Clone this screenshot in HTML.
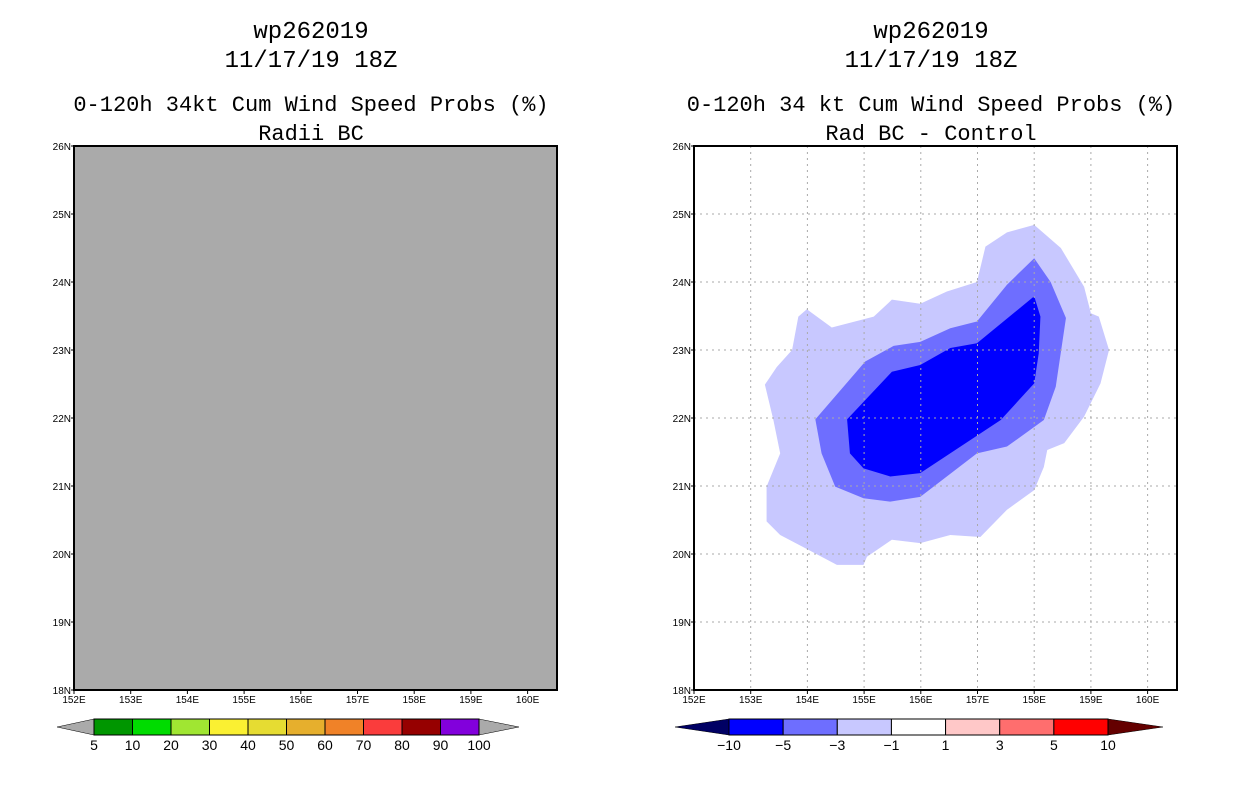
<!DOCTYPE html>
<html><head><meta charset="utf-8"><style>
body{margin:0;background:#fff;width:1236px;height:800px;overflow:hidden}
svg text{font-family:"Liberation Sans",sans-serif}
svg text.t{font-family:"Liberation Mono",monospace}
</style></head><body>
<svg id="s" width="1236" height="800" xmlns="http://www.w3.org/2000/svg"></svg>
<script>
const lonTicks=[152,153,154,155,156,157,158,159,160];
const latTicks=[18,19,20,21,22,23,24,25,26];
const probLevels=["5","10","20","30","40","50","60","70","80","90","100"];
const probColors=["#009600","#00dc00","#a0e632","#faf032","#e6dc32","#e6af2d","#f08228","#fa3c3c","#960000","#8200dc"];
const diffLevels=["-10","-5","-3","-1","1","3","5","10"];
const diffColors=["#0000ff","#6e6eff","#c8c8ff","#ffffff","#ffc8c8","#ff6e6e","#ff0000"];
const outerLon=[153.99,154.43,155.17,155.49,155.99,156.46,156.99,157.14,157.52,158.00,158.47,158.88,159.00,159.14,159.32,159.17,158.88,158.53,158.23,158.17,158.00,157.52,157.05,156.52,155.99,155.49,155.05,154.99,154.52,154.02,153.52,153.28,153.28,153.52,153.40,153.25,153.46,153.73,153.84];
const outerLat=[23.60,23.33,23.49,23.74,23.68,23.86,24.00,24.52,24.73,24.84,24.50,23.93,23.54,23.49,23.00,22.51,22.02,21.63,21.53,21.28,20.94,20.65,20.25,20.28,20.16,20.21,19.96,19.84,19.84,20.06,20.28,20.48,20.99,21.48,21.97,22.49,22.75,23.00,23.49];
const midLon=[154.14,155.02,155.52,155.99,156.52,156.99,157.52,158.00,158.29,158.56,158.38,158.17,157.52,156.99,155.99,155.46,154.99,154.49,154.25];
const midLat=[21.98,22.83,23.06,23.12,23.32,23.42,23.96,24.35,24.00,23.47,22.46,21.97,21.58,21.48,20.84,20.77,20.82,20.99,21.48];
const innerLon=[154.70,155.49,155.99,156.52,156.99,158.00,158.11,158.08,158.00,157.41,155.99,155.46,154.99,154.75];
const innerLat=[21.98,22.68,22.78,23.03,23.10,23.79,23.49,22.95,22.51,21.97,21.19,21.14,21.26,21.48];

const S=document.getElementById('s'),NS='http://www.w3.org/2000/svg';
function mk(t,a,p){const e=document.createElementNS(NS,t);for(const k in a)e.setAttribute(k,a[k]);(p||S).appendChild(e);return e;}
function txt(x,y,s,size,anchor,name,cls){const e=mk('text',{x:x,y:y,'font-size':size,'text-anchor':anchor||'middle',fill:'#000'});e.textContent=s;
if(cls)e.setAttribute('class',cls);

return e;}

function panel(x0,id,t3,t4,gray){
  const X=lon=>x0+(lon-152)*56.7, Y=lat=>146+(26-lat)*68;
  const cx=x0+237;
  txt(cx,38,'wp262019',24,'middle',id+'-title-storm','t');
  txt(cx,67,'11/17/19 18Z',24,'middle',id+'-title-date','t');
  txt(cx,111,t3,22,'middle',id+'-title-product','t');
  txt(cx,140,t4,22,'middle',id+'-title-subtitle','t');
  const g=mk('g',{});
  
  
  mk('rect',{x:x0,y:146,width:483,height:544,fill:gray?'#aaaaaa':'#fff'},g);
  if(!gray){
    const poly=(lo,la,c,n)=>{const p=mk('polygon',{points:lo.map((v,i)=>X(v)+','+Y(la[i])).join(' '),fill:c},g);
      
      };
    poly(outerLon,outerLat,'#c8c8ff','contour-minus1');
    poly(midLon,midLat,'#6e6eff','contour-minus3');
    poly(innerLon,innerLat,'#0000ff','contour-minus5');
    lonTicks.slice(1).forEach(l=>mk('line',{x1:X(l),x2:X(l),y1:146,y2:690,stroke:'#aaa','stroke-dasharray':'2,4'},g));
    latTicks.slice(1,-1).forEach(l=>mk('line',{x1:x0,x2:x0+483,y1:Y(l),y2:Y(l),stroke:'#aaa','stroke-dasharray':'2,4'},g));
  }
  mk('rect',{x:x0,y:146,width:483,height:544,fill:'none',stroke:'#000','stroke-width':2},g);
  lonTicks.forEach(l=>{mk('line',{x1:X(l),x2:X(l),y1:690,y2:694,stroke:'#000'});txt(X(l),703,l+'E',10,'middle',id+'-x-tick');});
  latTicks.forEach(l=>{mk('line',{x1:x0-3,x2:x0,y1:Y(l),y2:Y(l),stroke:'#000'});txt(x0-3,Y(l)+4,l+'N',10,'end',id+'-y-tick');});
}
panel(74,'left','0-120h 34kt Cum Wind Speed Probs (%)','Radii BC',true);
panel(694,'right','0-120h 34 kt Cum Wind Speed Probs (%)','Rad BC - Control',false);

function cbar(x1,x2,tl,tr,cols,labs,lc,rc,id){
  const g=mk('g',{});
  
  
  const w=(x2-x1)/cols.length;
  mk('polygon',{points:`${tl},727 ${x1},719 ${x1},735`,fill:lc,stroke:'#000','stroke-width':0.5},g);
  mk('polygon',{points:`${tr},727 ${x2},719 ${x2},735`,fill:rc,stroke:'#000','stroke-width':0.5},g);
  cols.forEach((c,i)=>mk('rect',{x:x1+i*w,y:719,width:w,height:16,fill:c,stroke:'#000','stroke-width':1},g));
  labs.forEach((s,i)=>{txt(x1+i*w,750,s.replace('-','\u2212'),14,'middle',id+'-label');});
}
cbar(94,479,57,519,probColors,probLevels,'#aaaaaa','#aaaaaa','left-colorbar');
cbar(729,1108,675,1163,diffColors,diffLevels,'#000064','#640000','right-colorbar');
</script>
</body></html>
